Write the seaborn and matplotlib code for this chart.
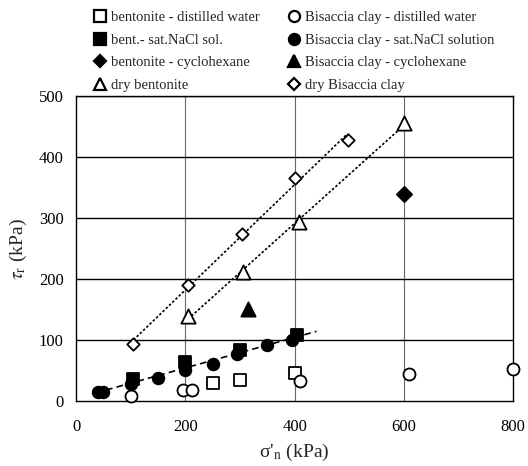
import numpy as np
import pandas as pd
import matplotlib
matplotlib.use("Agg")
import matplotlib.pyplot as plt
import seaborn as sns

sns.set_style("white")
plt.rcParams["font.family"] = ["Liberation Serif", "DejaVu Serif"]
plt.rcParams["mathtext.fontset"] = "stix"

# Residual shear strength tau_r vs effective normal stress sigma'_n (kPa)
bent_water_x = [250, 300, 400]
bent_water_y = [30, 35, 46]

bisa_water_x = [100, 195, 212, 410, 610, 800]
bisa_water_y = [8, 18, 18, 33, 45, 53]

bent_nacl_x = [105, 200, 300, 405]
bent_nacl_y = [36, 64, 84, 108]

bisa_nacl_x = [40, 50, 100, 150, 200, 250, 295, 350, 395]
bisa_nacl_y = [15, 15, 28, 38, 51, 61, 77, 92, 100]

bent_cyclo_x = [600]
bent_cyclo_y = [340]

bisa_cyclo_x = [315]
bisa_cyclo_y = [151]

dry_bent_x = [205, 305, 408, 600]
dry_bent_y = [139, 212, 293, 455]

dry_bisa_x = [105, 205, 303, 400, 497]
dry_bisa_y = [93, 191, 274, 365, 428]

# extent of the dashed trend through the NaCl-solution tests
nacl_trend_span = [55, 440]

x_ticks = [0, 200, 400, 600, 800]
y_ticks = [0, 100, 200, 300, 400, 500]

fig = plt.figure(figsize=(5.28, 4.66), dpi=100)
ax = fig.add_axes([0.144, 0.139, 0.828, 0.655])

# grid: vertical light, horizontal dark
for xv in x_ticks[1:-1]:
    ax.axvline(xv, color="#666666", lw=0.8, zorder=0)
for yv in y_ticks[1:]:
    ax.axhline(yv, color="black", lw=1.0, zorder=0)

# trend lines
nacl_x = np.array(bent_nacl_x + bisa_nacl_x, dtype=float)
nacl_y = np.array(bent_nacl_y + bisa_nacl_y, dtype=float)
slope, intercept = np.polyfit(nacl_x, nacl_y, 1)
span = np.array(nacl_trend_span, dtype=float)
sns.lineplot(x=span, y=intercept + slope * span, ax=ax, color="black",
             lw=1.2, linestyle=(0, (4, 2.5)), zorder=2)

for xs, ys in [(dry_bisa_x, dry_bisa_y), (dry_bent_x, dry_bent_y)]:
    sns.regplot(x=np.array(xs, float), y=np.array(ys, float), ax=ax,
                scatter=False, ci=None, truncate=True,
                line_kws=dict(color="black", lw=1.2, linestyle=(0, (1.5, 1.2)),
                              zorder=2))

series = [
    ("bentonite - distilled water", bent_water_x, bent_water_y, "s", False, 75),
    ("bent.- sat.NaCl sol.", bent_nacl_x, bent_nacl_y, "s", True, 75),
    ("bentonite - cyclohexane", bent_cyclo_x, bent_cyclo_y, "D", True, 60),
    ("dry bentonite", dry_bent_x, dry_bent_y, "^", False, 105),
    ("Bisaccia clay - distilled water", bisa_water_x, bisa_water_y, "o", False, 75),
    ("Bisaccia clay - sat.NaCl solution", bisa_nacl_x, bisa_nacl_y, "o", True, 70),
    ("Bisaccia clay - cyclohexane", bisa_cyclo_x, bisa_cyclo_y, "^", True, 105),
    ("dry Bisaccia clay", dry_bisa_x, dry_bisa_y, "D", False, 40),
]

handles = []
for label, xs, ys, mk, filled, size in series:
    face = "black" if filled else "white"
    sns.scatterplot(x=xs, y=ys, ax=ax, marker=mk, s=size, color=face,
                    edgecolor="black", linewidth=1.3, zorder=4, clip_on=False)
    handles.append(plt.Line2D([], [], ls="", marker=mk, markersize=8 if mk != "D" else 6.5,
                              markerfacecolor=face, markeredgecolor="black",
                              markeredgewidth=1.6, label=label))

ax.set_xlim(0, 800)
ax.set_ylim(0, 500)
ax.set_xticks(x_ticks)
ax.set_yticks(y_ticks)
ax.tick_params(axis="both", direction="out", length=5, width=1, labelsize=12,
               color="black", labelcolor="black", pad=4)
ax.tick_params(axis="x", pad=8)
for sp in ax.spines.values():
    sp.set_visible(True)
    sp.set_color("black")
    sp.set_linewidth(1.0)

ax.set_xlabel("σ'$_{\\mathrm{n}}$ (kPa)", fontsize=14, labelpad=5)
ax.set_ylabel("$\\tau_{\\mathrm{r}}$ (kPa)", fontsize=14, labelpad=7)

fig.legend(handles=handles, ncol=2, loc="upper left",
           bbox_to_anchor=(0.153, 1.0), frameon=False, fontsize=10.5,
           handletextpad=0.1, columnspacing=1.8, labelspacing=0.64,
           handlelength=1.2, borderaxespad=0.35)

fig.savefig("out.png", dpi=100)
